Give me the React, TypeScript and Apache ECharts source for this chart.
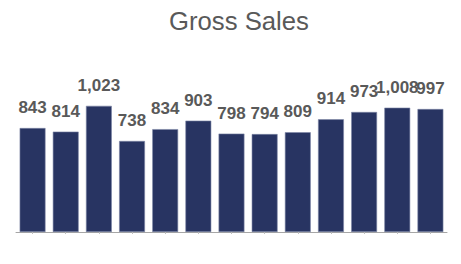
import React, { useEffect, useRef } from "react";
import * as echarts from "echarts";

const categories = ["1", "2", "3", "4", "5", "6", "7", "8", "9", "10", "11", "12", "13"];
const grossSales = [843, 814, 1023, 738, 834, 903, 798, 794, 809, 914, 973, 1008, 997];

export default function App() {
  const ref = useRef<HTMLDivElement>(null);
  useEffect(() => {
    document.body.style.margin = "0";
    if (!ref.current) return;
    const chart = echarts.init(ref.current, null, { renderer: "svg" });
    chart.setOption({
      animation: false,
      title: {
        text: "Gross Sales",
        left: 164,
        top: 3,
        textStyle: {
          fontFamily: "Liberation Sans, Arial, sans-serif",
          fontSize: 25.7,
          fontWeight: "normal",
          color: "#595959",
        },
      },
      grid: { left: 16, right: 14, top: 84, bottom: 32 },
      xAxis: {
        type: "category",
        data: categories,
        axisLine: { lineStyle: { color: "#a6a6a6", width: 1 } },
        axisTick: { show: true, alignWithLabel: true, length: 2, lineStyle: { color: "#bfbfbf" } },
        axisLabel: { show: false },
      },
      yAxis: {
        type: "value",
        min: 0,
        max: 1200,
        show: false,
        splitLine: { show: false },
      },
      series: [
        {
          type: "bar",
          data: grossSales,
          barCategoryGap: "22%",
          itemStyle: { color: "#283462", borderColor: "#7e87a6", borderWidth: 0.6 },
          label: {
            show: true,
            position: "top",
            distance: 12,
            fontFamily: "Liberation Sans, Arial, sans-serif",
            fontSize: 17,
            fontWeight: "bold",
            color: "#595959",
            formatter: (p: any) => p.value.toLocaleString("en-US"),
          },
        },
      ],
    });
    return () => chart.dispose();
  }, []);
  return <div ref={ref} style={{ width: 461, height: 264 }} />;
}
